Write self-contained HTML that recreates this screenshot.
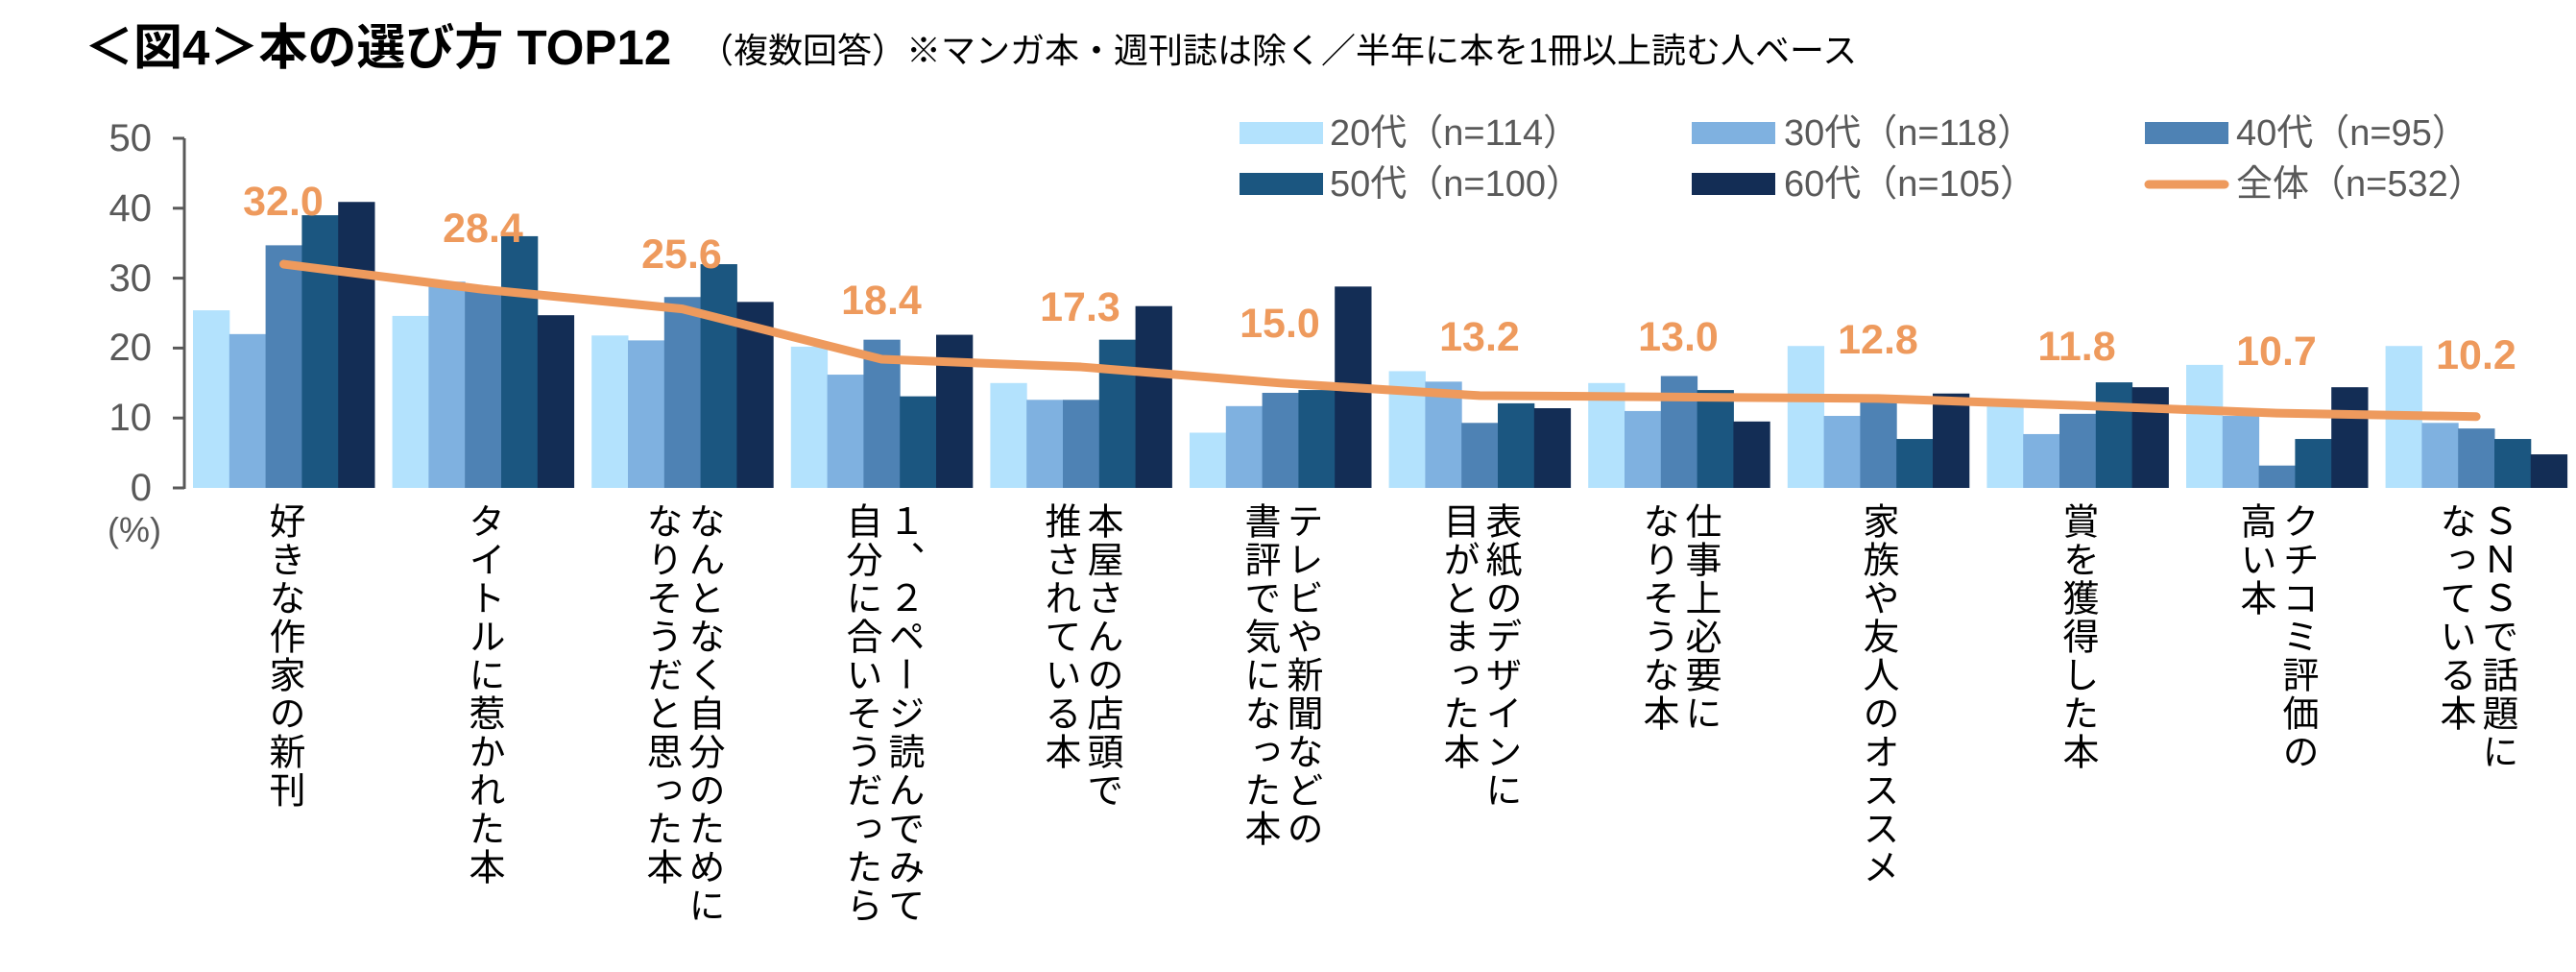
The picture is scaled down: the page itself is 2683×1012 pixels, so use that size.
<!DOCTYPE html>
<html><head><meta charset="utf-8">
<style>
html,body{margin:0;padding:0;background:#fff;}
body{width:2683px;height:1012px;position:relative;overflow:hidden;font-family:"Liberation Sans","Noto Sans CJK JP",sans-serif;}
.t{position:absolute;white-space:nowrap;}
.yl{position:absolute;color:#595959;font-size:40px;width:60px;text-align:right;left:98px;line-height:40px;}
.lg{position:absolute;color:#595959;font-size:38px;line-height:38px;white-space:nowrap;}
.sw{position:absolute;width:87px;height:23px;}
.val{position:absolute;color:#EE9A5D;font-weight:bold;font-size:43px;line-height:43px;width:140px;text-align:center;}
.cat{position:absolute;top:523px;writing-mode:vertical-rl;font-size:38px;line-height:44px;letter-spacing:2px;color:#000;font-family:"Liberation Sans","Noto Sans CJK JP",sans-serif;}
</style></head><body>
<div class="t" style="left:88px;top:21px;font-size:51px;font-weight:bold;line-height:58px;">＜図4＞本の選び方 TOP12</div>
<div class="t" style="left:728px;top:32px;font-size:36px;line-height:42px;">（複数回答）※マンガ本・週刊誌は除く／半年に本を1冊以上読む人ベース</div>

<svg width="2683" height="1012" style="position:absolute;left:0;top:0" id="svg">
<g id="bars"></g>
<line x1="192" y1="144" x2="192" y2="509" stroke="#595959" stroke-width="3"/>
<g stroke="#595959" stroke-width="3">
<line x1="180" y1="144" x2="192" y2="144"/><line x1="180" y1="216.8" x2="192" y2="216.8"/>
<line x1="180" y1="289.6" x2="192" y2="289.6"/><line x1="180" y1="362.4" x2="192" y2="362.4"/>
<line x1="180" y1="435.2" x2="192" y2="435.2"/><line x1="180" y1="508" x2="192" y2="508"/>
</g>
<polyline id="ln" fill="none" stroke="#EE9A5D" stroke-width="9" stroke-linecap="round" stroke-linejoin="round"/>
<line x1="2238" y1="192" x2="2317" y2="192" stroke="#EE9A5D" stroke-width="9" stroke-linecap="round"/>
</svg>

<div class="yl" style="top:124px">50</div>
<div class="yl" style="top:197px">40</div>
<div class="yl" style="top:270px">30</div>
<div class="yl" style="top:342px">20</div>
<div class="yl" style="top:415px">10</div>
<div class="yl" style="top:488px">0</div>
<div class="t" style="left:112px;top:531px;font-size:36px;color:#595959;">(%)</div>

<div class="sw" style="left:1291px;top:127px;background:#B3E2FD"></div>
<div class="lg" style="left:1385px;top:120px">20代（n=114）</div>
<div class="sw" style="left:1762px;top:127px;background:#7FB1E0"></div>
<div class="lg" style="left:1858px;top:120px">30代（n=118）</div>
<div class="sw" style="left:2234px;top:127px;background:#4E82B4"></div>
<div class="lg" style="left:2329px;top:120px">40代（n=95）</div>
<div class="sw" style="left:1291px;top:180px;background:#1B5680"></div>
<div class="lg" style="left:1385px;top:173px">50代（n=100）</div>
<div class="sw" style="left:1762px;top:180px;background:#132D55"></div>
<div class="lg" style="left:1858px;top:173px">60代（n=105）</div>
<div class="lg" style="left:2329px;top:173px">全体（n=532）</div>

<div class="val" style="left:225px;top:189px">32.0</div>
<div class="val" style="left:433px;top:217px">28.4</div>
<div class="val" style="left:640px;top:244px">25.6</div>
<div class="val" style="left:848px;top:292px">18.4</div>
<div class="val" style="left:1055px;top:299px">17.3</div>
<div class="val" style="left:1263px;top:316px">15.0</div>
<div class="val" style="left:1471px;top:330px">13.2</div>
<div class="val" style="left:1678px;top:330px">13.0</div>
<div class="val" style="left:1886px;top:333px">12.8</div>
<div class="val" style="left:2093px;top:340px">11.8</div>
<div class="val" style="left:2301px;top:345px">10.7</div>
<div class="val" style="left:2509px;top:349px">10.2</div>

<div class="cat" style="left:273px">好きな作家の新刊</div>
<div class="cat" style="left:481px">タイトルに惹かれた本</div>
<div class="cat" style="left:666px">なんとなく自分のために<br>なりそうだと思った本</div>
<div class="cat" style="left:874px">１、２ページ読んでみて<br>自分に合いそうだったら</div>
<div class="cat" style="left:1081px">本屋さんの店頭で<br>推されている本</div>
<div class="cat" style="left:1289px">テレビや新聞などの<br>書評で気になった本</div>
<div class="cat" style="left:1496px">表紙のデザインに<br>目がとまった本</div>
<div class="cat" style="left:1704px">仕事上必要に<br>なりそうな本</div>
<div class="cat" style="left:1933px">家族や友人のオススメ</div>
<div class="cat" style="left:2141px">賞を獲得した本</div>
<div class="cat" style="left:2326px">クチコミ評価の<br>高い本</div>
<div class="cat" style="left:2534px">ＳＮＳで話題に<br>なっている本</div>

<script>
var d=[[25.4,22.0,34.7,39.0,40.9],[24.6,29.5,28.5,36.0,24.7],[21.8,21.1,27.3,32.0,26.6],[20.2,16.2,21.2,13.1,21.9],[15.0,12.6,12.6,21.2,26.0],[7.9,11.7,13.6,14.0,28.8],[16.7,15.2,9.3,12.1,11.4],[15.0,11.0,16.0,14.0,9.5],[20.3,10.3,13.1,7.0,13.5],[12.0,7.7,10.6,15.1,14.4],[17.6,10.3,3.2,7.0,14.4],[20.3,9.3,8.5,7.0,4.8]];
var tot=[32.0,28.4,25.6,18.4,17.3,15.0,13.2,13.0,12.8,11.8,10.7,10.2];
var c=["#B3E2FD","#7FB1E0","#4E82B4","#1B5680","#132D55"];
var s="",p=[];
for(var i=0;i<12;i++){var x0=201+207.6*i;for(var j=0;j<5;j++){var h=d[i][j]*7.28;s+='<rect x="'+(x0+j*37.8)+'" y="'+(508-h)+'" width="38.3" height="'+h+'" fill="'+c[j]+'"/>';}
p.push((x0+94.5)+","+(508-tot[i]*7.28));}
document.getElementById("bars").innerHTML=s;
document.getElementById("ln").setAttribute("points",p.join(" "));
</script>
</body></html>
